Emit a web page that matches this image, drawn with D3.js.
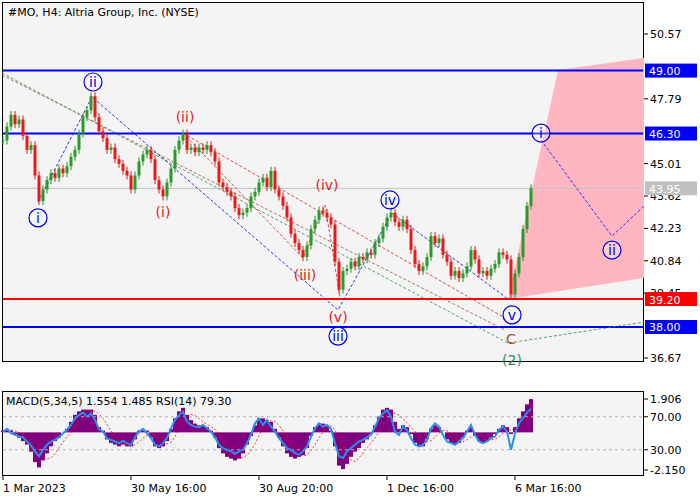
<!DOCTYPE html>
<html><head><meta charset="utf-8">
<script src="https://cdn.jsdelivr.net/npm/d3@7"></script>
<style>body{margin:0;background:#fff}svg{display:block}text{font-family:"DejaVu Sans",sans-serif}</style>
</head><body><svg id="chart" width="700" height="500"></svg>
<script>
// closes, one per bar
const closes = [
  46.0,46.6,47.1,46.7,46.9,46.2,45.6,45.8,44.5,43.4,
  43.9,44.3,44.6,44.4,44.8,44.6,44.9,45.3,45.6,46.3,
  47.0,47.3,47.9,47.0,46.4,46.1,45.6,45.7,45.2,45.0,
  44.7,44.5,43.9,44.5,45.1,45.4,45.6,45.2,44.3,43.9,
  43.6,44.2,44.8,45.6,46.0,46.3,45.6,45.7,45.5,45.7,
  45.6,45.8,45.5,45.1,44.2,44.0,43.8,43.6,43.1,42.8,
  42.9,43.1,43.6,43.8,44.2,44.4,44.0,44.7,43.9,43.6,
  43.2,42.7,42.0,41.6,41.3,41.0,41.5,42.2,42.6,43.0,
  42.9,42.7,42.4,40.8,39.6,40.4,40.5,40.8,40.6,41.0,
  40.9,41.2,41.1,41.6,41.8,42.3,42.7,42.9,42.5,42.3,
  42.6,42.2,41.3,40.7,40.4,40.6,41.0,41.9,41.6,41.8,
  41.1,40.8,40.2,40.4,40.1,40.3,40.6,41.3,40.9,40.3,
  40.4,40.2,40.5,40.7,41.2,41.1,40.9,39.4,40.3,41.0,
  42.2,43.2,43.95
];
const macd = [
  0.1,0.2,0.1,-0.1,
  -0.3,-0.5,-0.7,-1.1,-1.7,-2.0,-1.6,-1.2,-0.8,-0.5,
  -0.3,0.0,0.2,0.6,1.0,1.2,1.3,1.3,1.3,1.0,
  0.3,0.1,-0.4,-0.6,-0.7,-0.8,-0.7,-0.8,-0.8,-0.4,
  0.1,0.2,0.1,-0.3,-0.8,-0.9,-0.8,-0.5,
  0.2,0.8,1.2,1.4,1.0,0.7,0.5,0.4,0.4,0.3,0.1,
  -0.3,-0.9,-1.2,-1.4,-1.5,-1.6,-1.5,-1.2,-0.7,
  -0.2,0.4,0.8,0.8,0.7,0.6,0.2,
  -0.3,-0.8,-1.2,-1.4,-1.5,-1.4,-1.3,-0.9,-0.2,
  0.3,0.5,0.5,0.4,0.1,
  -0.8,-1.9,-2.1,-1.8,-1.4,-1.1,-0.9,-0.6,-0.4,-0.1,
  0.4,0.9,1.3,1.4,1.3,0.6,
  0.2,0.4,0.3,-0.1,-0.6,-0.8,-0.8,-0.4,
  0.2,0.4,0.3,0.0,-0.4,-0.6,-0.7,-0.6,-0.3,
  0.1,0.3,-0.2,-0.5,-0.6,-0.5,-0.3,-0.1,
  0.2,0.4,0.3,-0.1,
  0.3,0.8,1.2,1.6,1.9
];
const rsi = [
  52,55,50,48,
  46,45,40,35,28,22,30,36,40,42,
  45,50,54,60,68,72,75,70,74,66,
  55,52,44,42,40,38,41,38,36,45,
  52,55,50,44,36,34,38,44,
  56,66,72,76,64,60,58,57,60,56,52,
  45,36,32,30,28,25,28,30,38,
  48,62,68,60,66,58,52,
  44,38,32,30,26,24,28,34,46,
  56,62,58,60,55,
  38,22,20,28,32,36,40,42,45,48,
  58,68,74,78,70,52,
  48,58,54,44,36,34,36,42,
  56,62,58,48,40,38,36,40,44,
  52,60,48,40,38,40,44,46,
  54,58,52,30,
  50,62,68,75,79.3
];
const priceTicks = [50.57,47.79,45.01,43.62,42.23,40.84,39.45,36.67];
const timeLabels = [[0,"1 Mar 2023"],[32,"30 May 16:00"],[64,"30 Aug 20:00"],[96,"1 Dec 16:00"],[128,"6 Mar 16:00"]];
const levels = [[49.00,"#0000ff"],[46.30,"#0000ff"],[39.20,"#ff0000"],[38.00,"#0000ff"]];
const lastPrice = 43.95;
const pinkZone = [[126.25,39.2],[138.75,49.03],[160.25,49.54],[160.25,40.1]];
const forecast = [[134.5,46.02],[152.25,41.9],[160.25,43.19]];
const blueWave = [[8.75,43.36],[22.25,47.87],[83.75,38.73],[97.25,42.89],[126.25,39.2]];
const redWave = [[45,46.32],[75,40.96],[80.5,43.23],[84.25,39.29]];
const redChannel = [[45,46.32],[125.5,38.39]];
const brownLine = [[-0.25,48.81],[125.5,37.87]];
const greenLine = [[-0.25,48.90],[126.25,37.31],[160.25,38.21]];
const blueLabels = [["i",8.75,42.68],["ii",22.5,48.51],["iii",83.75,37.61],["iv",96.75,43.45],["v",127.25,38.52],["i",134.5,46.32],["ii",152.25,41.30]];
const redLabels = [["(i)",40,42.93],["(ii)",45.5,47.01],["(iii)",75.5,40.23],["(iv)",81,44.09],["(v)",83.75,38.43]];

const svg = d3.select("#chart");
const x = d3.scaleLinear().domain([0, closes.length - 1]).range([3, 531]);
const y = d3.scaleLinear().domain([36.67, 50.57]).range([358, 34]);
const ym = d3.scaleLinear().domain([-2.15, 1.906]).range([470, 399]);
const yr = d3.scaleLinear().domain([0, 100]).range([474.5, 392]);
const line = d3.line().x(d => x(d[0])).y(d => y(d[1]));

svg.append("rect").attr("width", 700).attr("height", 500).attr("fill", "#fff");
svg.append("rect").attr("x", 2.5).attr("y", 2.5).attr("width", 641).attr("height", 359).attr("fill", "#f4f4f4").attr("stroke", "#000");
svg.append("rect").attr("x", 2.5).attr("y", 391.5).attr("width", 641).attr("height", 84).attr("fill", "#f4f4f4").attr("stroke", "#000");

const main = svg.append("g");
main.append("path").attr("d", line(pinkZone) + "Z").attr("fill", "#ffb6c1");

// horizontal levels
main.append("line").attr("x1", 3).attr("x2", 643).attr("y1", y(lastPrice)).attr("y2", y(lastPrice)).attr("stroke", "#c0c0c0");
levels.forEach(([v, c]) => {
  main.append("line").attr("x1", 3).attr("x2", 643).attr("y1", y(v)).attr("y2", y(v)).attr("stroke", c).attr("stroke-width", 2);
});

// dashed wave lines
[[brownLine,"#a0522d"],[greenLine,"#2e8b57"],[redChannel,"#d02020"],[redWave,"#d02020"],[blueWave,"#0000cc"],[forecast,"#0000ff"]].forEach(([pts, c]) => {
  main.append("path").attr("d", line(pts)).attr("fill", "none").attr("stroke", c).attr("stroke-width", 0.8).attr("stroke-dasharray", "3,2");
});

// candles
closes.forEach((c, i) => {
  const o = i ? closes[i - 1] : c;
  const up = c >= o;
  const hi = Math.max(o, c), lo = Math.min(o, c);
  main.append("line").attr("x1", x(i)).attr("x2", x(i)).attr("y1", y(hi) - 4).attr("y2", y(lo) + 4)
    .attr("stroke", up ? "#2a8f2a" : "#e01818").attr("stroke-width", 1);
  main.append("rect").attr("x", x(i) - 1.5).attr("width", 3).attr("y", y(hi)).attr("height", Math.max(1, y(lo) - y(hi)))
    .attr("fill", up ? "#2a9a2a" : "#e81a1a");
});

// wave labels
blueLabels.forEach(([t, i, v]) => {
  main.append("circle").attr("cx", x(i)).attr("cy", y(v)).attr("r", 9).attr("fill", "#fff").attr("fill-opacity", 0.3).attr("stroke", "#0000dd").attr("stroke-width", 1.2);
  main.append("text").attr("x", x(i)).attr("y", y(v) + 5).attr("text-anchor", "middle").attr("font-size", 14).attr("fill", "#0000dd").text(t);
});
redLabels.forEach(([t, i, v]) => {
  main.append("text").attr("x", x(i)).attr("y", y(v) + 5).attr("text-anchor", "middle").attr("font-size", 14).attr("fill", "#e02020").text(t);
});
main.append("text").attr("x", x(127)).attr("y", y(37.48) + 5).attr("text-anchor", "middle").attr("font-size", 14).attr("fill", "#a0522d").text("C");
main.append("text").attr("x", x(127.25)).attr("y", y(36.58) + 5).attr("text-anchor", "middle").attr("font-size", 14).attr("fill", "#2e8b57").text("(2)");

main.append("text").attr("x", 8).attr("y", 16).attr("font-size", 11).text("#MO, H4:  Altria Group, Inc. (NYSE)");

// price axis
const ax = svg.append("g").attr("font-size", 11);
priceTicks.forEach(v => {
  ax.append("line").attr("x1", 644).attr("x2", 648).attr("y1", y(v)).attr("y2", y(v)).attr("stroke", "#000");
  ax.append("text").attr("x", 650).attr("y", y(v) + 4).text(v.toFixed(2));
});
const tags = [[lastPrice, "#c0c0c0"]].concat(levels);
tags.forEach(([v, c]) => {
  ax.append("rect").attr("x", 645).attr("y", y(v) - 7).attr("width", 52).attr("height", 14).attr("fill", c);
  ax.append("text").attr("x", 649).attr("y", y(v) + 4.5).attr("fill", "#fff").text(v.toFixed(2));
});

// indicator panel
const ind = svg.append("g");
const bw = x(1) - x(0);
macd.forEach((v, i) => {
  ind.append("rect").attr("x", x(i) - bw / 2).attr("width", bw).attr("y", Math.min(ym(0), ym(v))).attr("height", Math.abs(ym(v) - ym(0)))
    .attr("fill", "#800080");
});
const signal = macd.map((v, i) => d3.mean(macd.slice(Math.max(0, i - 4), i + 1)));
ind.append("path").attr("d", d3.line().x((d, i) => x(i)).y(d => ym(d))(signal)).attr("fill", "none").attr("stroke", "#ff0000").attr("stroke-width", 0.8).attr("stroke-dasharray", "2,2");
[70, 30].forEach(v => ind.append("line").attr("x1", 3).attr("x2", 643).attr("y1", yr(v)).attr("y2", yr(v)).attr("stroke", "#b0b0b0").attr("stroke-dasharray", "3,3"));
ind.append("path").attr("d", d3.line().x((d, i) => x(i)).y(d => yr(d))(rsi)).attr("fill", "none").attr("stroke", "#2a8ff0").attr("stroke-width", 2);
ind.append("text").attr("x", 6).attr("y", 405).attr("font-size", 11).text("MACD(5,34,5) 1.554 1.485 RSI(14) 79.30");
[[ym(1.906), "1.906"], [yr(70), "70.00"], [yr(30), "30.00"], [ym(-2.15), "-2.150"]].forEach(([py, t]) => {
  ax.append("line").attr("x1", 644).attr("x2", 648).attr("y1", py).attr("y2", py).attr("stroke", "#000");
  ax.append("text").attr("x", 650).attr("y", py + 4).text(t);
});

// time axis
timeLabels.forEach(([i, t]) => {
  ax.append("line").attr("x1", x(i)).attr("x2", x(i)).attr("y1", 476).attr("y2", 480).attr("stroke", "#000");
  ax.append("text").attr("x", x(i)).attr("y", 492).text(t);
});
</script></body></html>
